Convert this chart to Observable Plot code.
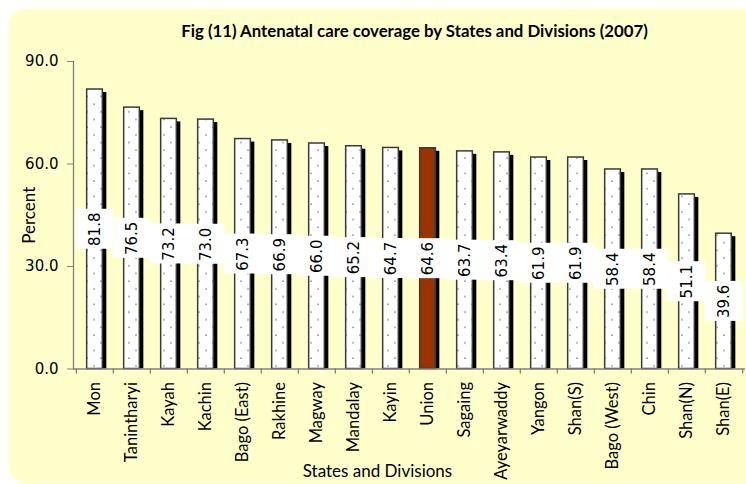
<!DOCTYPE html>
<html>
<head>
<meta charset="utf-8">
<script src="https://cdn.jsdelivr.net/npm/d3@7"></script>
<script src="https://cdn.jsdelivr.net/npm/@observablehq/plot@0.6"></script>
<style>
  html, body { margin: 0; padding: 0; background: #ffffff; }
  #chart { width: 746px; height: 484px; }
</style>
</head>
<body>
<div id="chart"></div>
<script>
const categories = ["Mon","Tanintharyi","Kayah","Kachin","Bago (East)","Rakhine","Magway","Mandalay","Kayin","Union","Sagaing","Ayeyarwaddy","Yangon","Shan(S)","Bago (West)","Chin","Shan(N)","Shan(E)"];
const values = [81.8,76.5,73.2,73.0,67.3,66.9,66.0,65.2,64.7,64.6,63.7,63.4,61.9,61.9,58.4,58.4,51.1,39.6];
const yTicks = [0, 30, 60, 90];
const highlight = "Union";
const titleText = "Fig (11) Antenatal care coverage by States and Divisions (2007)";
const xTitle = "States and Divisions";
const yTitle = "Percent";

const data = categories.map((name, i) => ({name, value: values[i]}));

const W = 746, H = 484;
const mL = 73, mR = 1, mT = 61, mB = 115.5;
const bw = (W - mL - mR) / categories.length;
const barInset = (bw - 16) / 2;
const calibri = "Lato, 'Open Sans', sans-serif";
const numFont = "'DejaVu Sans', Verdana, sans-serif";

const plot = Plot.plot({
  width: W,
  height: H,
  marginLeft: mL,
  marginRight: mR,
  marginTop: mT,
  marginBottom: mB,
  style: {background: "transparent", fontFamily: numFont, fontSize: "15px", color: "black"},
  x: {domain: categories, padding: 0, axis: null},
  y: {domain: [0, 90], axis: null},
  marks: [
    // chart area background
    Plot.frame({fill: "#FFFFCC", stroke: "none", rx: 18,
      insetLeft: -65, insetTop: -53, insetBottom: -114.5, insetRight: -30}),
    // shadows
    Plot.barY(data, {x: "name", y: "value", fill: "black",
      insetLeft: barInset, insetRight: barInset, insetBottom: 3, dx: 4, dy: 3}),
    // bars
    Plot.barY(data.filter(d => d.name !== highlight), {x: "name", y: "value", fill: "url(#dots)",
      stroke: "#3a3a3a", strokeWidth: 1.5, insetLeft: barInset, insetRight: barInset}),
    Plot.barY(data.filter(d => d.name === highlight), {x: "name", y: "value", fill: "#993300",
      stroke: "#3a3a3a", strokeWidth: 1.5, insetLeft: barInset, insetRight: barInset}),
    // axis lines
    Plot.frame({anchor: "left", stroke: "#808080", strokeWidth: 1.3}),
    Plot.ruleY([0], {stroke: "#808080", strokeWidth: 1.3}),
    Plot.axisY({ticks: yTicks, tickSize: 6, tickPadding: 9, tickFormat: d => d.toFixed(1),
      stroke: "#808080", fill: "black", label: null, fontSize: 15, fontFamily: numFont}),
    // category boundary ticks
    Plot.ruleX(categories, {x: d => d, dx: -bw / 2, y1: 0, y2: 0, insetBottom: -5, stroke: "#808080", strokeWidth: 1.3}),
    Plot.ruleX(categories.slice(-1), {x: d => d, dx: bw / 2, y1: 0, y2: 0, insetBottom: -5, stroke: "#808080", strokeWidth: 1.3}),
    // category labels
    Plot.axisX({tickSize: 0, tickPadding: 13, tickRotate: -90, label: null,
      fontSize: 16.5, fontFamily: calibri, fill: "black"}),
    // value label boxes and text
    Plot.barY(data, {x: "name", y1: d => d.value / 2, y2: d => d.value / 2, fill: "white",
      insetTop: -20, insetBottom: -20, insetLeft: -0.5, insetRight: -0.5}),
    Plot.text(data, {x: "name", y: d => d.value / 2, text: d => d.value.toFixed(1), rotate: -90,
      fill: "black", fontSize: 15, fontFamily: numFont}),
    // titles
    Plot.text([titleText], {frameAnchor: "top", dx: 5, dy: -30, fontWeight: "bold",
      fontSize: 16.8, fontFamily: calibri, fill: "black", lineAnchor: "middle"}),
    Plot.text([xTitle], {frameAnchor: "bottom", dx: -32, dy: 102.5, fontSize: 17,
      fontFamily: calibri, fill: "black", lineAnchor: "middle"}),
    Plot.text([yTitle], {frameAnchor: "left", dx: -44, rotate: -90, fontSize: 17, textAnchor: "middle",
      fontFamily: calibri, fill: "black", lineAnchor: "middle"})
  ]
});

// dotted pattern for the bars
const ns = "http://www.w3.org/2000/svg";
const defs = document.createElementNS(ns, "defs");
defs.innerHTML = `<pattern id="dots" patternUnits="userSpaceOnUse" width="14" height="15.4">
  <rect width="14" height="15.4" fill="white"/>
  <circle cx="3" cy="4" r="0.9" fill="#8c8cc0"/>
  <circle cx="10" cy="11.7" r="0.9" fill="#8c8cc0"/>
</pattern>`;
plot.insertBefore(defs, plot.firstChild);
document.getElementById("chart").appendChild(plot);
</script>
</body>
</html>
